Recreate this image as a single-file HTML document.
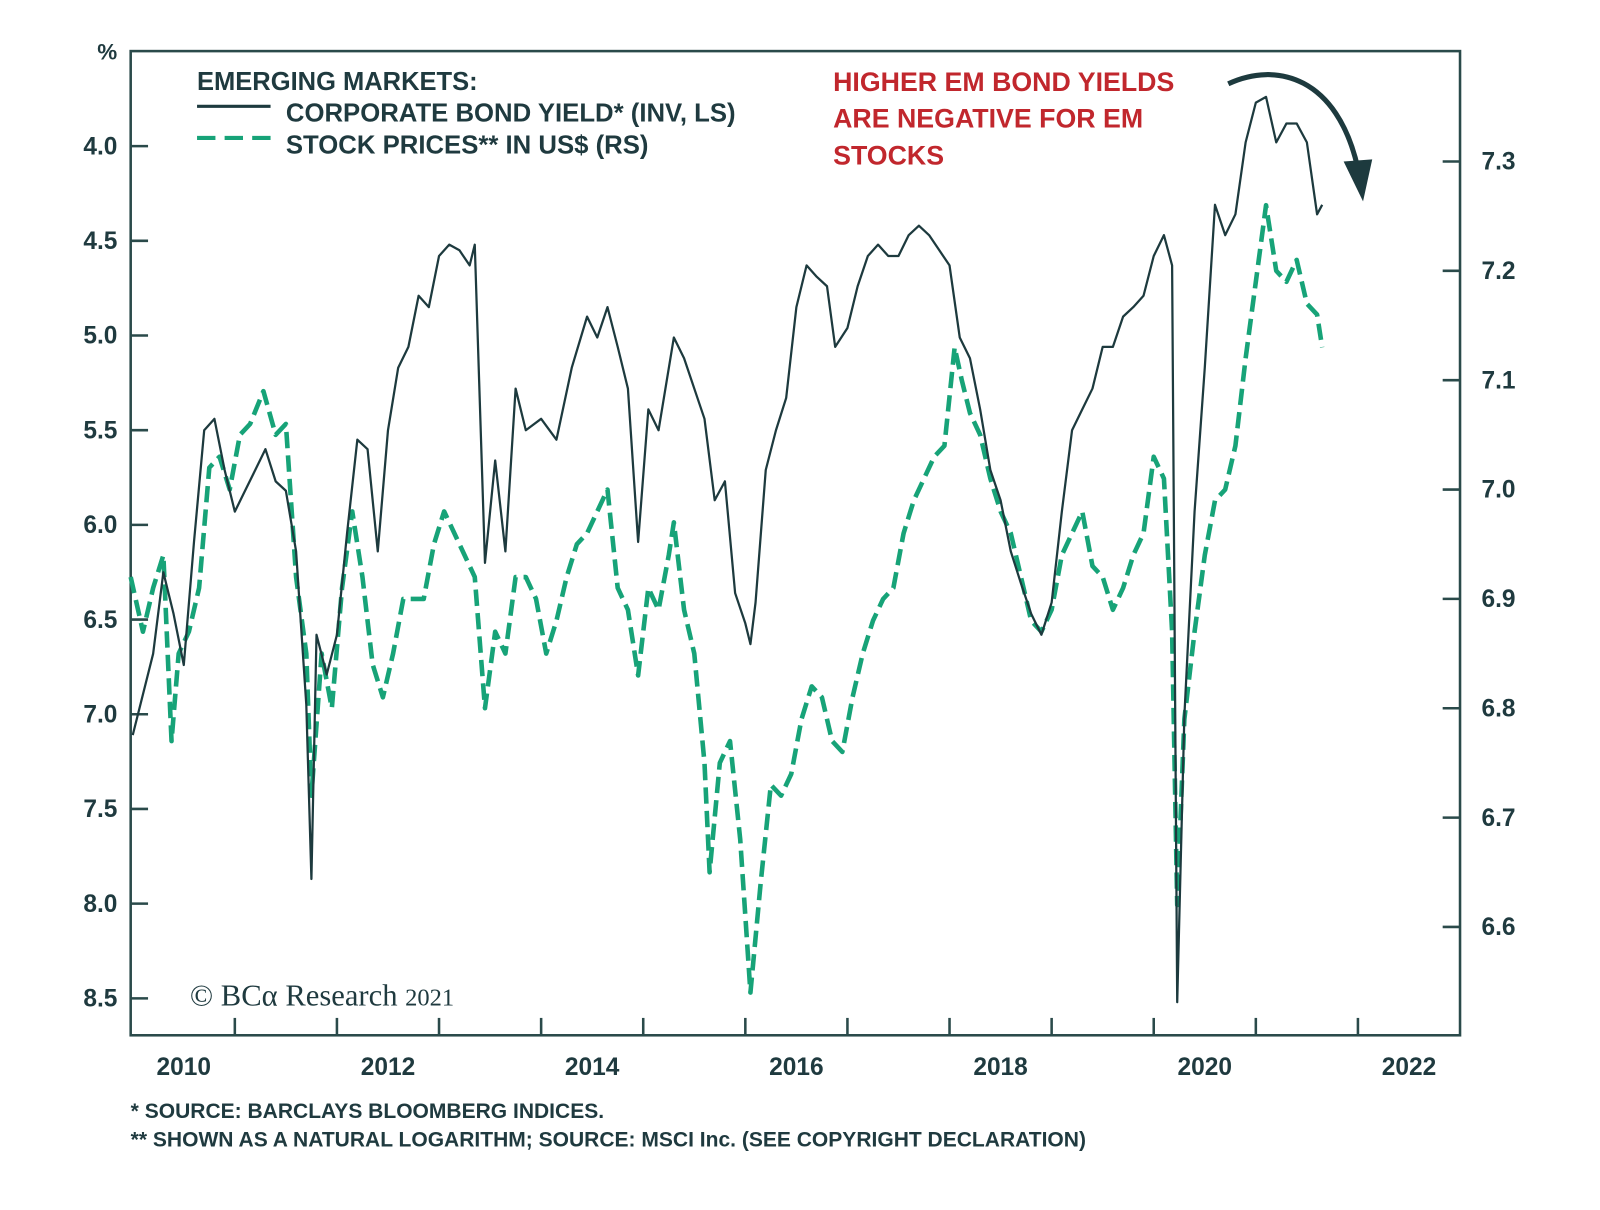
<!DOCTYPE html>
<html><head><meta charset="utf-8">
<style>
body{margin:0;background:#fff;}
svg text{font-family:"Liberation Sans",Arial,sans-serif;font-weight:bold;fill:#1f3a3f;}
</style></head>
<body>
<svg id="chart" width="1600" height="1205" viewBox="0 0 1600 1205" xmlns="http://www.w3.org/2000/svg">
<g transform="scale(1.021,1.022)">
<g id="axes"></g>
<g id="series"></g>
<g id="annot">
<text x="105" y="58" font-size="22" text-anchor="middle">%</text>
<text x="193" y="88" font-size="25">EMERGING MARKETS:</text>
<line x1="193" y1="104" x2="265" y2="104" stroke="#1d3a3e" stroke-width="3"/>
<text x="280" y="119" font-size="25.2">CORPORATE BOND YIELD* (INV, LS)</text>
<line x1="193" y1="135" x2="265" y2="135" stroke="#17a378" stroke-width="4" stroke-dasharray="18,9"/>
<text x="280" y="150" font-size="25.2">STOCK PRICES** IN US$ (RS)</text>
<g>
<text x="816" y="89" font-size="26.2" style="fill:#c1272d">HIGHER EM BOND YIELDS</text>
<text x="816" y="125" font-size="26.2" style="fill:#c1272d">ARE NEGATIVE FOR EM</text>
<text x="816" y="161" font-size="26.2" style="fill:#c1272d">STOCKS</text>
</g>
<path d="M1203,82 C1250,60 1310,75 1330,165" fill="none" stroke="#1d3a3e" stroke-width="5"/>
<polygon points="1316,158 1344,156 1335,197" fill="#1d3a3e"/>
<text x="186" y="984" font-size="30" style="font-family:'Liberation Serif',serif;font-weight:normal">© BCα Research <tspan font-size="24">2021</tspan></text>
<text x="128" y="1094" font-size="20.6">*  SOURCE: BARCLAYS BLOOMBERG INDICES.</text>
<text x="128" y="1122" font-size="20.6">** SHOWN AS A NATURAL LOGARITHM; SOURCE: MSCI Inc. (SEE COPYRIGHT DECLARATION)</text>
</g>
</g>
</svg>
<script>
const yieldYears=[2010.0,2010.2,2010.3,2010.4,2010.5,2010.6,2010.7,2010.8,2010.9,2011.0,2011.1,2011.2,2011.3,2011.4,2011.5,2011.6,2011.7,2011.75,2011.8,2011.9,2012.0,2012.1,2012.2,2012.3,2012.4,2012.5,2012.6,2012.7,2012.8,2012.9,2013.0,2013.1,2013.2,2013.3,2013.35,2013.45,2013.55,2013.65,2013.75,2013.85,2014.0,2014.15,2014.3,2014.45,2014.55,2014.65,2014.75,2014.85,2014.95,2015.05,2015.15,2015.3,2015.4,2015.5,2015.6,2015.7,2015.8,2015.9,2016.0,2016.05,2016.1,2016.2,2016.3,2016.4,2016.5,2016.6,2016.7,2016.8,2016.88,2017.0,2017.1,2017.2,2017.3,2017.4,2017.5,2017.6,2017.7,2017.8,2017.9,2018.0,2018.1,2018.2,2018.3,2018.4,2018.5,2018.6,2018.7,2018.8,2018.9,2019.0,2019.1,2019.2,2019.3,2019.4,2019.5,2019.6,2019.7,2019.8,2019.9,2020.0,2020.1,2020.18,2020.23,2020.3,2020.4,2020.5,2020.6,2020.7,2020.8,2020.9,2021.0,2021.1,2021.2,2021.3,2021.4,2021.5,2021.6,2021.65];
const yieldValues=[7.11,6.68,6.25,6.47,6.74,6.09,5.50,5.44,5.71,5.93,5.82,5.71,5.60,5.77,5.82,6.14,6.95,7.87,6.58,6.79,6.58,6.04,5.55,5.60,6.14,5.50,5.17,5.06,4.79,4.85,4.58,4.52,4.55,4.63,4.52,6.20,5.66,6.14,5.28,5.50,5.44,5.55,5.17,4.90,5.01,4.85,5.06,5.28,6.09,5.39,5.50,5.01,5.12,5.28,5.44,5.87,5.77,6.36,6.52,6.63,6.41,5.71,5.50,5.33,4.85,4.63,4.69,4.74,5.06,4.96,4.74,4.58,4.52,4.58,4.58,4.47,4.42,4.47,4.55,4.63,5.01,5.12,5.39,5.71,5.87,6.14,6.31,6.47,6.58,6.41,5.93,5.50,5.39,5.28,5.06,5.06,4.90,4.85,4.79,4.58,4.47,4.63,8.52,7.01,5.93,5.17,4.31,4.47,4.36,3.98,3.77,3.74,3.98,3.88,3.88,3.98,4.36,4.31];
const stockX=[128,140,150,160,168,175,185,195,205,215,225,235,245,258,270,280,290,300,305,315,325,335,345,355,365,375,385,395,405,415,425,435,445,455,465,475,485,495,505,515,525,535,545,555,565,575,585,595,605,615,625,635,645,655,660,670,680,690,695,705,715,725,735,745,755,765,775,785,795,805,815,825,835,845,855,865,875,885,895,905,915,925,935,942,950,960,970,980,990,1000,1010,1020,1030,1040,1050,1060,1070,1080,1090,1100,1110,1120,1130,1140,1148,1153,1160,1170,1180,1190,1200,1210,1220,1230,1240,1250,1260,1270,1280,1290,1295];
const stockYears=stockX.map(x=>+((x-130)/100+2010).toFixed(3));
const stockValues=[6.92,6.87,6.91,6.94,6.77,6.85,6.87,6.91,7.02,7.03,7.00,7.05,7.06,7.09,7.05,7.06,6.92,6.85,6.72,6.85,6.80,6.91,6.98,6.92,6.84,6.81,6.85,6.90,6.90,6.90,6.95,6.98,6.96,6.94,6.92,6.80,6.87,6.85,6.92,6.92,6.90,6.85,6.88,6.92,6.95,6.96,6.98,7.00,6.91,6.89,6.83,6.91,6.89,6.94,6.97,6.89,6.85,6.75,6.65,6.75,6.77,6.68,6.54,6.64,6.73,6.72,6.74,6.79,6.82,6.81,6.77,6.76,6.81,6.85,6.88,6.90,6.91,6.96,6.99,7.01,7.03,7.04,7.13,7.10,7.07,7.05,7.01,6.98,6.96,6.92,6.88,6.87,6.89,6.94,6.96,6.98,6.93,6.92,6.89,6.91,6.94,6.96,7.03,7.01,6.87,6.62,6.79,6.87,6.94,6.99,7.00,7.04,7.12,7.19,7.26,7.20,7.19,7.21,7.17,7.16,7.13];
const leftTicks=[4.0,4.5,5.0,5.5,6.0,6.5,7.0,7.5,8.0,8.5];
const rightTicks=[6.6,6.7,6.8,6.9,7.0,7.1,7.2,7.3];
const yearTicks=[2011,2012,2013,2014,2015,2016,2017,2018,2019,2020,2021,2022];
const yearLabels=[2010,2012,2014,2016,2018,2020,2022];

const NS="http://www.w3.org/2000/svg";
const L=128,R=1430,T=50,B=1013;
const xS=yr=>130+(yr-2010)*100;
const yL=v=>143+(v-4)*185.3;
const yR=v=>158+(7.3-v)*1070;
function mk(tag,attrs,parent){const e=document.createElementNS(NS,tag);for(const k in attrs)e.setAttribute(k,attrs[k]);parent.appendChild(e);return e;}
const axes=document.getElementById('axes'),series=document.getElementById('series');
const frame=mk('rect',{x:L,y:T,width:R-L,height:B-T,fill:'none',stroke:'#2a4a4a','stroke-width':2.5},axes);


leftTicks.forEach(v=>{
 const t=mk('line',{x1:L,x2:L+17,y1:yL(v),y2:yL(v),stroke:'#2a4a4a','stroke-width':2.5},axes);
 
 
 const s=mk('text',{x:115,y:yL(v)+8,'font-size':24,'text-anchor':'end'},axes);s.textContent=v.toFixed(1);
 
 
});
rightTicks.forEach(v=>{
 const t=mk('line',{x1:R-17,x2:R,y1:yR(v),y2:yR(v),stroke:'#2a4a4a','stroke-width':2.5},axes);
 
 
 const s=mk('text',{x:1451,y:yR(v)+8,'font-size':24},axes);s.textContent=v.toFixed(1);
 
 
});
yearTicks.forEach(y=>{
 const t=mk('line',{x1:xS(y),x2:xS(y),y1:B,y2:B-17,stroke:'#2a4a4a','stroke-width':2.5},axes);
 
 
});
yearLabels.forEach(y=>{
 const s=mk('text',{x:xS(y+0.5),y:1052,'font-size':24,'text-anchor':'middle'},axes);s.textContent=y;
 
 
});
const sp=mk('path',{d:stockYears.map((y,i)=>(i?'L':'M')+xS(y).toFixed(1)+','+yR(stockValues[i]).toFixed(1)).join(''),fill:'none',stroke:'#17a378','stroke-width':4.5,'stroke-dasharray':'16,7','stroke-linejoin':'round'},series);


const yp=mk('path',{d:yieldYears.map((y,i)=>(i?'L':'M')+xS(y).toFixed(1)+','+yL(yieldValues[i]).toFixed(1)).join(''),fill:'none',stroke:'#1d3a3e','stroke-width':2.2,'stroke-linejoin':'round'},series);


</script>
</body></html>
